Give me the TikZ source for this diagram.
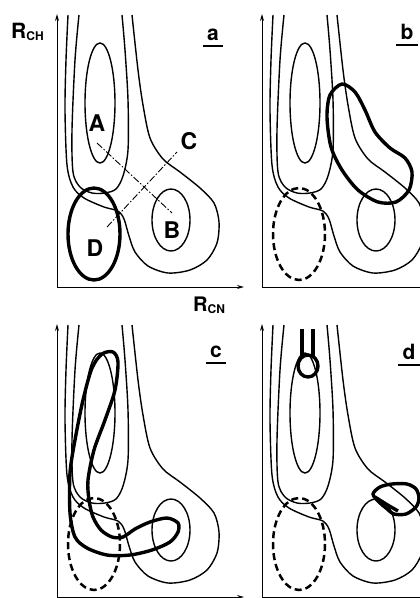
\documentclass[tikz,border=0pt]{standalone}
\usepackage{fontspec}
\setmainfont{TeX Gyre Heros}
\usetikzlibrary{arrows.meta}

\begin{document}
\begin{tikzpicture}[x=1pt, y=-1pt,
    contour/.style={line width=1.4pt},
    traj/.style={line width=3.4pt, line join=round},
    dtraj/.style={line width=2.5pt, dash pattern=on 7pt off 4pt},
    axis/.style={line width=1pt, -{Stealth[length=7pt, width=4pt]}},
    cutline/.style={line width=0.9pt, dash pattern=on 7pt off 2pt on 1.5pt off 2pt},
    lbl/.style={font=\fontsize{23}{23}\selectfont\bfseries, inner sep=1pt},
    tag/.style={font=\fontsize{21}{21}\selectfont\bfseries, inner sep=0pt, anchor=base},
    uline/.style={line width=1.8pt}]

    \useasboundingbox (0,0) rectangle (420,598);
    \clip (0,0) rectangle (420,598);

    % Axes and contours, the same in all four panels
    \foreach \dx/\dy in {0/0, 205/0, 0/310, 205/310} {
      \begin{scope}[shift={(\dx,\dy)}]
        \draw[axis] (57,287) -- (57,14);
        \draw[axis] (57,287) -- (244,287);
        % inner contour round A
        \draw[contour] (100,103) ellipse [x radius=15, y radius=60];
        % inner contour round B
        \draw[contour] (171,220) ellipse [x radius=19, y radius=31];
        % U-shaped contour
        \draw[contour] plot[smooth] coordinates {(79,15) (75,60) (72,130) (73,172) (80,187) (92,193) (105,193) (116,189) (123,176) (128,150) (128,100) (125,50) (122,15)};
        % outer contour
        \draw[contour] plot[smooth] coordinates {(68,15) (66,60) (65,110) (67,165) (73,187) (84,198) (104,207) (118,211) (124,219) (129,236) (135,252) (148,266) (168,273) (190,270) (207,260) (217,243) (219,222) (214,203) (200,188) (180,172) (163,159) (150,138) (143,105) (138,70) (132,15)};
      \end{scope}
    }

    % Axis labels
    \node[anchor=base west, inner sep=0pt, font=\bfseries] (rch) at (11,38) {\fontsize{21}{21}\selectfont R\raisebox{-2pt}{\fontsize{12}{12}\selectfont CH}};
    \node[anchor=base west, inner sep=0pt, font=\bfseries] (rcn) at (193,311) {\fontsize{20}{20}\selectfont R\raisebox{-2pt}{\fontsize{12}{12}\selectfont CN}};

    % Panel tags
    \node[tag] (taga) at (213,40) {a};
    \node[tag] (tagb) at (407,39) {b};
    \node[tag] (tagc) at (216,357) {c};
    \node[tag] (tagd) at (409,359) {d};
    \foreach \t in {taga, tagb, tagc, tagd}
      \draw[uline] ([xshift=-4pt, yshift=-6pt]\t.base west) -- ([xshift=4pt, yshift=-6pt]\t.base east);

    % Panel a: regions and cuts
    \node[lbl] (labA) at (97,123) {A};
    \node[lbl] (labB) at (172,230) {B};
    \node[lbl] (labC) at (189,141) {C};
    \node[lbl] (labD) at (95,248) {D};
    \coordinate (cutA1) at (97,143);
    \coordinate (cutA2) at (172,213);
    \coordinate (cutC1) at (107,227);
    \coordinate (cutC2) at (177,152);
    \draw[cutline] (cutA1) -- (cutA2);
    \draw[cutline] (cutC1) -- (cutC2);
    \draw[traj] (94,234) ellipse [x radius=26, y radius=46];

    % Region D dashed in b, c, d
    \foreach \dx/\dy in {205/0, 0/310, 205/310}
      \draw[dtraj] (94+\dx,234+\dy) ellipse [x radius=26, y radius=46];

    % Panel b: trajectory
    \draw[traj] plot[smooth cycle] coordinates {(342,84) (355,92) (365,110) (375,132) (390,148) (405,158) (412,172) (409,190) (396,202) (378,202) (358,190) (342,170) (331,147) (327,117) (330,95)};

    % Panel c: trajectory
    \draw[traj] plot[smooth cycle] coordinates {(113,352) (118,362) (115,390) (105,420) (94,450) (88,480) (89,500) (93,517) (101,530) (112,537) (123,537) (135,529) (150,522) (167,518) (178,523) (178,532) (170,542) (152,550) (130,555) (107,555) (87,548) (75,537) (70,513) (70,473) (75,440) (83,400) (92,368) (102,354)};

    % Panel d: trajectories
    \draw[traj] (302,329) -- (302,358);
    \draw[traj] (313,329) -- (313,356);
    \draw[traj] (308,366) ellipse [x radius=10, y radius=11];
    \draw[traj] plot[smooth cycle] coordinates {(373,494) (380,487) (392,484) (407,484) (416,489) (419,498) (416,507) (406,514) (394,514) (386,508) (379,502)};
    \draw[traj] plot[smooth] coordinates {(375,497) (386,504) (398,511)};

\end{tikzpicture}
\end{document}
